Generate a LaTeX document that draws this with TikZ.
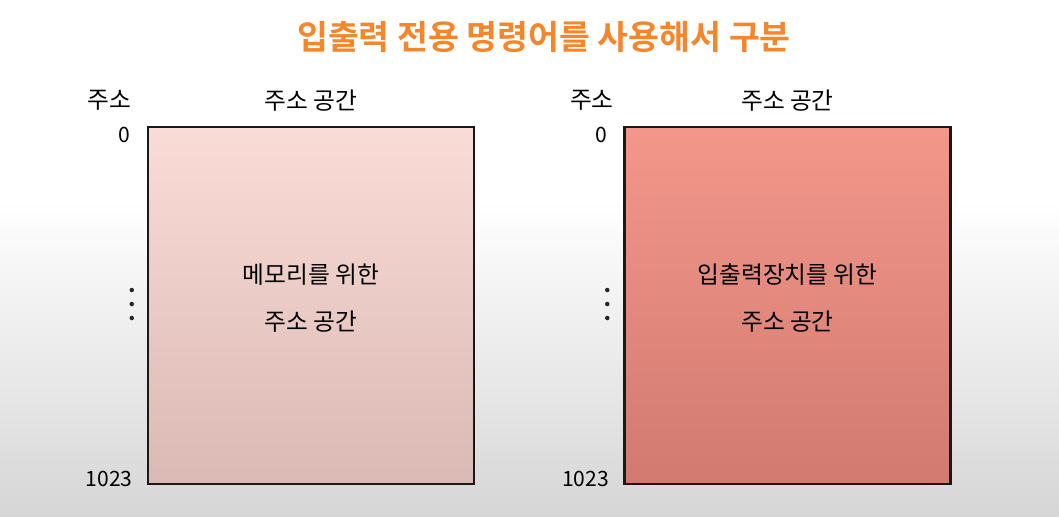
\documentclass[tikz,border=0pt]{standalone}
\usepackage{fontspec}
\setmainfont{Noto Sans CJK KR}
\newfontfamily\krbold{Noto Sans CJK KR Bold}
\usepackage{xcolor}
\usetikzlibrary{positioning,calc}

\definecolor{titleorange}{HTML}{F5862C}
\definecolor{memtop}{HTML}{FADCD6}
\definecolor{membot}{HTML}{DBB9B4}
\definecolor{iotop}{HTML}{F3978A}
\definecolor{iobot}{HTML}{D27A70}
\definecolor{bggray}{HTML}{D6D6D6}

\begin{document}
\begin{tikzpicture}[
    space/.style={draw=black!90, line width=1.4pt, rectangle, minimum width=6.52cm, minimum height=7.14cm, inner sep=0pt},
    label/.style={font=\fontsize{13.5}{16}\selectfont, inner sep=0pt},
    addr/.style={font=\fontsize{12}{14}\selectfont, inner sep=0pt},
    dot/.style={circle, fill=black!85, inner sep=0pt, minimum size=0.09cm}
]

% Background
\useasboundingbox (0, 0) rectangle (21.18, -10.32);
\fill[white] (0, 0) rectangle (21.18, -4);
\shade[top color=white, bottom color=bggray] (0, -4) rectangle (21.18, -10.32);

% Title
\node[font=\krbold\fontsize{19.1}{22}\selectfont, text=titleorange] (T) at (10.88, -0.74) {입출력 전용 명령어를 사용해서 구분};

% Address spaces
\node[space, top color=memtop, bottom color=membot] (M) at (6.22, -6.11) {};
\node[space, top color=iotop, bottom color=iobot] (IO) at (15.75, -6.11) {};

% Contents
\node[label, align=center, font=\fontsize{13.5}{26.6}\selectfont] (Mtxt) at ($(M.center) + (0, 0.15)$) {메모리를 위한\\주소 공간};
\node[label, align=center, font=\fontsize{13.5}{26.6}\selectfont] (IOtxt) at ($(IO.center) + (0, 0.15)$) {입출력장치를 위한\\주소 공간};

% Headings
\node[label, above=0.28cm of M] (Mhead) {주소 공간};
\node[label, above=0.28cm of IO] (IOhead) {주소 공간};
\node[label] (Maddr) at ($(Mhead.west |- Mhead.center) + (-3.1, 0)$) {주소};
\node[label] (IOaddr) at ($(IOhead.west |- IOhead.center) + (-2.98, 0)$) {주소};

% Address numbers
\node[addr, anchor=east] (M0) at ($(M.north west) + (-0.32, -0.18)$) {0};
\node[addr, anchor=east] (IO0) at ($(IO.north west) + (-0.32, -0.18)$) {0};
\node[addr, anchor=east] (Mend) at ($(M.south west) + (-0.28, 0.12)$) {1023};
\node[addr, anchor=east] (IOend) at ($(IO.south west) + (-0.28, 0.12)$) {1023};

% Dots
\foreach \dy in {0.28, 0, -0.28} {
    \node[dot] at ($(M.west) + (-0.3, 0.03+\dy)$) {};
    \node[dot] at ($(IO.west) + (-0.32, 0.03+\dy)$) {};
}

\end{tikzpicture}
\end{document}
